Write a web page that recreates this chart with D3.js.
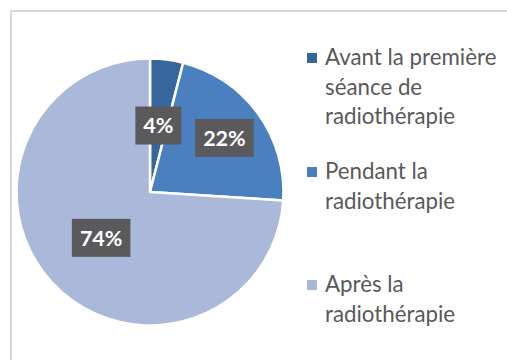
<!DOCTYPE html>
<html>
<head>
<meta charset="utf-8">
<script src="https://cdn.jsdelivr.net/npm/d3@7"></script>
<style>
  html, body { margin: 0; padding: 0; background: #fff; }
  svg { display: block; }
</style>
</head>
<body>
<svg id="chart" width="507" height="360"></svg>
<script>
// Répartition des patients selon le moment
const categories = [
  ["Avant la première", "séance de", "radiothérapie"],
  ["Pendant la", "radiothérapie"],
  ["Après la", "radiothérapie"]
];
const values = [4, 22, 74];
const valueLabels = ["4%", "22%", "74%"];
const colors = ["#36669b", "#4a7fc0", "#aab9da"];

const svg = d3.select("#chart");
const W = 507, H = 360;
const font = "Lato, 'Open Sans', sans-serif";

// outer frame (runs past the right and bottom edges)
svg.append("rect")
  .attr("x", 11).attr("y", 11)
  .attr("width", W + 20).attr("height", H + 20)
  .attr("fill", "#fff")
  .attr("stroke", "#dadada")
  .attr("stroke-width", 2);

const cx = 150, cy = 192, R = 133.5;

const pie = d3.pie().sort(null).value(d => d)
  .startAngle(0).endAngle(2 * Math.PI);
const arcs = pie(values);
const arc = d3.arc().innerRadius(0).outerRadius(R);

const g = svg.append("g").attr("transform", `translate(${cx},${cy})`);

g.selectAll("path.slice")
  .data(arcs)
  .join("path")
  .attr("class", "slice")
  .attr("d", arc)
  .attr("fill", (d, i) => colors[i])
  .attr("stroke", "#fff")
  .attr("stroke-width", 2.5)
  .attr("stroke-linejoin", "round");

// data labels: dark boxes with white bold text
const labelRadius = [67, 92, 67];
const labels = g.selectAll("g.lbl")
  .data(arcs)
  .join("g")
  .attr("class", "lbl")
  .attr("transform", (d, i) => {
    const c = d3.arc().innerRadius(labelRadius[i]).outerRadius(labelRadius[i]).centroid(d);
    return `translate(${c[0]},${c[1]})`;
  });

labels.append("text")
  .attr("text-anchor", "middle")
  .attr("dy", "0.36em")
  .attr("font-family", font)
  .attr("font-weight", "bold")
  .attr("font-size", 21.5)
  .attr("fill", "#fff")
  .text((d, i) => valueLabels[i])
  .each(function() {
    const bb = this.getBBox();
    const padX = 8;
    d3.select(this.parentNode).insert("rect", "text")
      .attr("x", bb.x - padX)
      .attr("y", -19)
      .attr("width", bb.width + 2 * padX)
      .attr("height", 38)
      .attr("fill", "#5a5a5c");
  });

// legend
const legendX = 307, textX = 325, lineH = 29.5;
const firstBaselines = [65, 179, 292];
const legend = svg.append("g");
categories.forEach((lines, i) => {
  const gy = firstBaselines[i];
  legend.append("rect")
    .attr("x", legendX).attr("y", gy - 12)
    .attr("width", 10).attr("height", 10)
    .attr("fill", colors[i]);
  const t = legend.append("text")
    .attr("x", textX).attr("y", gy)
    .attr("font-family", font)
    .attr("font-size", 22.3)
    .attr("fill", "#595959");
  lines.forEach((ln, j) => {
    t.append("tspan").attr("x", textX).attr("y", gy + j * lineH).text(ln);
  });
});
</script>
</body>
</html>
